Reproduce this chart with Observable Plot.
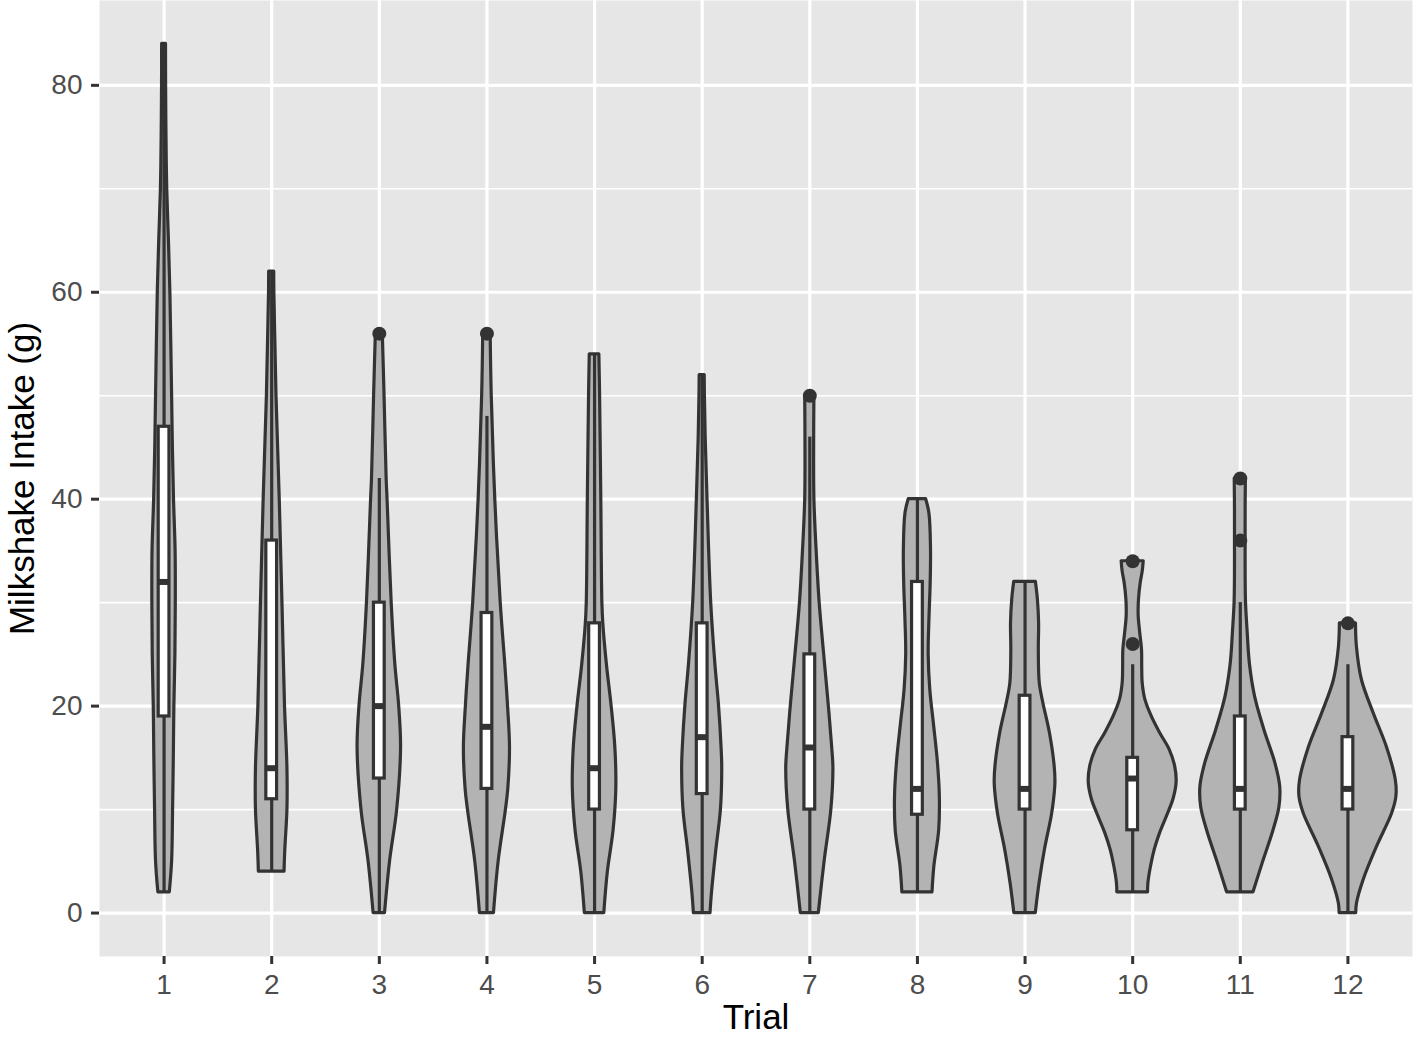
<!DOCTYPE html>
<html>
<head>
<meta charset="utf-8">
<script src="https://cdn.jsdelivr.net/npm/d3@7"></script>
<script src="https://cdn.jsdelivr.net/npm/@observablehq/plot@0.6"></script>
<style>
  html, body { margin: 0; padding: 0; background: white; }
  #chart { width: 1418px; height: 1037px; }
</style>
</head>
<body>
<div id="chart"></div>
<script>
// ---- Data ----
const trials = [1, 2, 3, 4, 5, 6, 7, 8, 9, 10, 11, 12];
const yMajorTicks = [0, 20, 40, 60, 80];
const yMinorTicks = [10, 30, 50, 70];

// Box-plot statistics per trial
const whiskerLow  = [2, 4, 0, 0, 0, 0, 0, 2, 0, 2, 2, 0];
const quartile1   = [19, 11, 13, 12, 10, 11.5, 10, 9.5, 10, 8, 10, 10];
const medians     = [32, 14, 20, 18, 14, 17, 16, 12, 12, 13, 12, 12];
const quartile3   = [47, 36, 30, 29, 28, 28, 25, 32, 21, 15, 19, 17];
const whiskerHigh = [84, 62, 42, 48, 54, 52, 46, 40, 32, 24, 30, 24];

// Outliers
const outlierTrial = [3, 4, 7, 10, 10, 11, 11, 12];
const outlierValue = [56, 56, 50, 26, 34, 36, 42, 28];

// Violin density profiles: [intake (g), relative density (1 = widest violin)]
const violin1 = [[2,0.118],[5,0.166],[10,0.186],[15,0.201],[20,0.213],[25,0.234],[30,0.242],[35,0.238],[40,0.205],[45,0.182],[50,0.166],[55,0.149],[60,0.13],[65,0.10],[70,0.065],[75,0.05],[80,0.042],[84,0.04]];
const violin2 = [[4,0.265],[6,0.28],[10,0.325],[14,0.325],[20,0.275],[30,0.222],[40,0.166],[50,0.099],[56,0.072],[60,0.055],[62,0.052]];
const violin3 = [[0,0.118],[5,0.222],[10,0.369],[16,0.449],[20,0.41],[24,0.331],[30,0.255],[40,0.17],[42,0.151],[50,0.108],[56,0.072]];
const violin4 = [[0,0.145],[5,0.242],[10,0.393],[12,0.441],[16,0.476],[20,0.435],[24,0.379],[30,0.284],[40,0.172],[50,0.099],[56,0.077]];
const violin5 = [[0,0.201],[4,0.275],[8,0.393],[12,0.449],[16,0.429],[20,0.352],[24,0.255],[28,0.18],[30,0.161],[40,0.139],[50,0.114],[54,0.099]];
const violin6 = [[0,0.172],[2,0.203],[6,0.29],[10,0.387],[14,0.414],[16,0.4],[20,0.348],[24,0.273],[30,0.186],[40,0.11],[46,0.072],[50,0.056],[52,0.052]];
const violin7 = [[0,0.186],[5,0.306],[10,0.445],[14,0.487],[16,0.462],[20,0.393],[25,0.296],[30,0.203],[35,0.141],[40,0.095],[46,0.09],[50,0.095]];
const violin8 = [[2,0.311],[4.6,0.352],[8,0.449],[11.4,0.462],[14.8,0.418],[18.2,0.342],[21.6,0.265],[25,0.232],[28.4,0.248],[31.8,0.273],[35.2,0.28],[38.6,0.248],[40,0.18]];
const violin9 = [[0,0.222],[2.9,0.3],[6.1,0.41],[9.3,0.549],[11,0.6],[12.6,0.627],[14.2,0.611],[17.4,0.513],[20.3,0.377],[22.2,0.304],[25.4,0.284],[28,0.29],[30.3,0.265],[32,0.224]];
const violin10 = [[2,0.317],[2.9,0.325],[4.5,0.379],[6.1,0.455],[7.7,0.565],[9.3,0.704],[11,0.843],[12.6,0.907],[14.2,0.876],[15.8,0.762],[17.4,0.565],[19,0.393],[20.6,0.263],[22.2,0.207],[23.8,0.197],[25.4,0.193],[27.1,0.155],[28.7,0.124],[30.3,0.13],[31.9,0.166],[33,0.207],[34,0.228]];
const violin11 = [[2,0.273],[4.8,0.462],[8,0.687],[10.2,0.807],[12.2,0.824],[14.4,0.729],[17.7,0.497],[20.9,0.306],[24,0.2],[27.3,0.15],[30,0.118],[33,0.11],[36,0.11],[39,0.11],[42,0.115]];
const violin12 = [[0,0.172],[0.9,0.186],[3.2,0.325],[6.4,0.6],[9.6,0.911],[11.2,1.0],[12.8,0.99],[16,0.807],[19.3,0.532],[22.5,0.29],[25.7,0.186],[28,0.166]];
const violins = [violin1, violin2, violin3, violin4, violin5, violin6, violin7, violin8, violin9, violin10, violin11, violin12];

// ---- Tables built from the arrays ----
const violinHalfWidth = 0.45; // ggplot violin width 0.9
const boxHalfWidth = 0.05;    // boxplot width 0.1

const violinRows = [];
violins.forEach((profile, i) => {
  profile.forEach(([v, d]) => {
    violinRows.push({trial: trials[i], y: v, x1: trials[i] - d * violinHalfWidth, x2: trials[i] + d * violinHalfWidth});
  });
});

const boxes = trials.map((t, i) => ({
  trial: t, lo: whiskerLow[i], q1: quartile1[i], med: medians[i], q3: quartile3[i], hi: whiskerHigh[i]
}));

const outliers = outlierTrial.map((t, i) => ({trial: t, value: outlierValue[i]}));

const ink = "#333333";
const lw = 3.2;

const chart = Plot.plot({
  width: 1418,
  height: 1037,
  marginLeft: 99,
  marginRight: 6,
  marginTop: 0,
  marginBottom: 81,
  x: {domain: [0.4, 12.6]},
  y: {domain: [-4.2, 88.2]},
  style: {fontFamily: "'Liberation Sans', Arial, Helvetica, sans-serif", background: "white", color: "black"},
  marks: [
    Plot.frame({fill: "#E6E6E6", stroke: "none"}),
    Plot.ruleY(yMinorTicks, {y: d => d, stroke: "white", strokeWidth: 1.6}),
    Plot.ruleY(yMajorTicks, {y: d => d, stroke: "white", strokeWidth: 3.2}),
    Plot.ruleX(trials, {x: d => d, stroke: "white", strokeWidth: 3.2}),
    Plot.areaX(violinRows, {
      y: "y", x1: "x1", x2: "x2", z: "trial",
      fill: "#B3B3B3", stroke: ink, strokeWidth: lw, strokeLinejoin: "round",
      curve: "catmull-rom"
    }),
    Plot.ruleX(boxes, {x: "trial", y1: "lo", y2: "q1", stroke: ink, strokeWidth: lw}),
    Plot.ruleX(boxes, {x: "trial", y1: "q3", y2: "hi", stroke: ink, strokeWidth: lw}),
    Plot.rect(boxes, {
      x1: d => d.trial - boxHalfWidth, x2: d => d.trial + boxHalfWidth,
      y1: "q1", y2: "q3", fill: "white", stroke: ink, strokeWidth: lw
    }),
    Plot.ruleY(boxes, {
      y: "med", x1: d => d.trial - boxHalfWidth, x2: d => d.trial + boxHalfWidth,
      stroke: ink, strokeWidth: 6
    }),
    Plot.dot(outliers, {x: "trial", y: "value", r: 7, fill: ink, stroke: "none"}),
    Plot.axisY(yMajorTicks, {
      tickSize: 8, tickPadding: 9, fontSize: 28, stroke: ink, strokeWidth: 3,
      fill: "#4D4D4D", label: null, tickFormat: d => String(d)
    }),
    Plot.axisX(trials, {
      tickSize: 8, tickPadding: 10, fontSize: 28, stroke: ink, strokeWidth: 3,
      fill: "#4D4D4D", label: null, tickFormat: d => String(d)
    }),
    Plot.text(["Milkshake Intake (g)"], {
      text: d => d, frameAnchor: "left", textAnchor: "middle", rotate: -90, dx: -77,
      fontSize: 35, fill: "black"
    }),
    Plot.text(["Trial"], {
      text: d => d, frameAnchor: "bottom", dy: 72,
      fontSize: 35, fill: "black"
    })
  ]
});

document.getElementById("chart").appendChild(chart);
</script>
</body>
</html>
